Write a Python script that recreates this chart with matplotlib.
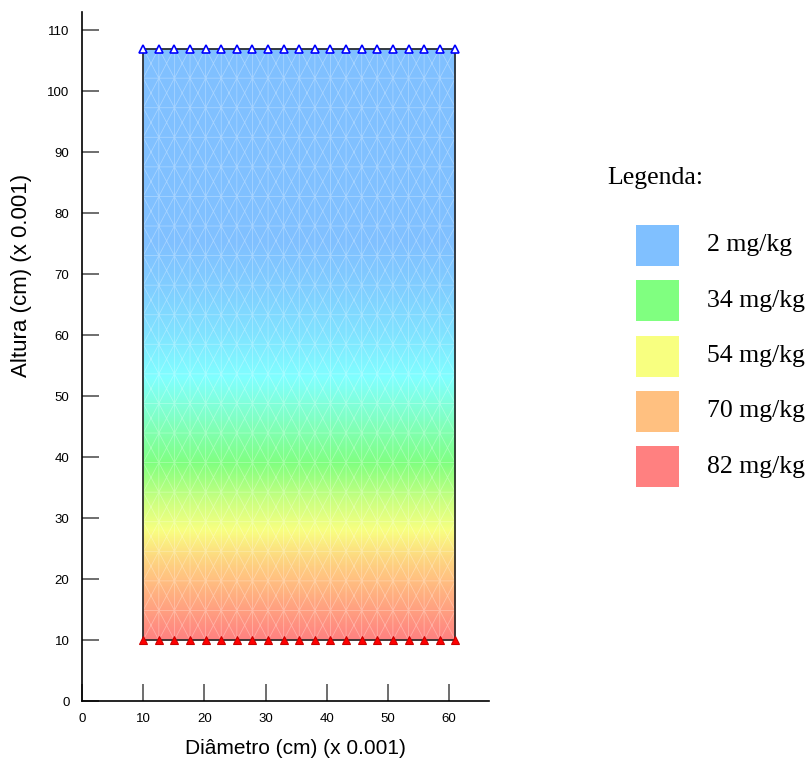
import numpy as np
import matplotlib
matplotlib.use('Agg')
import matplotlib.pyplot as plt
import matplotlib.tri as mtri
from matplotlib.colors import LinearSegmentedColormap
from matplotlib.patches import Rectangle

# sample geometry (units x 0.001 cm)
x_left, x_right = 10, 61
y_bottom, y_top = 10, 107
n_cols, n_rows = 21, 21

# concentration profile read along the height
heights = [10, 14, 20, 24, 28, 33, 39, 46, 53, 60, 67, 75, 107]
conc = [82, 77, 70, 63, 54, 46, 34, 26, 18, 11, 6, 2, 2]

# colour scale stops (mg/kg -> colour)
stop_vals = [2, 18, 34, 54, 70, 82]
stop_cols = ['#80C0FF', '#80FFFF', '#80FF80', '#F8FF80', '#FFC080', '#FF8080']

legend_labels = ['2 mg/kg', '34 mg/kg', '54 mg/kg', '70 mg/kg', '82 mg/kg']
legend_colors = ['#80C0FF', '#80FF80', '#F8FF80', '#FFC080', '#FF8080']

xticks = [0, 10, 20, 30, 40, 50, 60]
yticks = [0, 10, 20, 30, 40, 50, 60, 70, 80, 90, 100, 110]

plt.rcParams['font.family'] = ['Liberation Sans', 'DejaVu Sans']

fig = plt.figure(figsize=(8.10, 7.63), dpi=100)
ax = fig.add_axes([82/810, 62/763, 407/810, 689/763])
ax.set_xlim(0, 66.5)
ax.set_ylim(0, 113)

lo, hi = min(stop_vals), max(stop_vals)
cmap = LinearSegmentedColormap.from_list(
    'conc', [((v - lo) / (hi - lo), c) for v, c in zip(stop_vals, stop_cols)])

# colour field
X, Y = np.meshgrid([x_left, x_right], heights)
C = np.array([conc, conc]).T
ax.pcolormesh(X, Y, C, cmap=cmap, vmin=lo, vmax=hi, shading='gouraud', zorder=1)

# finite element mesh (quads split into 4 triangles)
xs = np.linspace(x_left, x_right, n_cols)
ys = np.linspace(y_bottom, y_top, n_rows)
gx, gy = np.meshgrid(xs, ys)
px = list(gx.ravel())
py = list(gy.ravel())
tris = []
for j in range(n_rows - 1):
    for i in range(n_cols - 1):
        a = j * n_cols + i
        b = a + 1
        c = a + n_cols + 1
        d = a + n_cols
        px.append((xs[i] + xs[i + 1]) / 2)
        py.append((ys[j] + ys[j + 1]) / 2)
        m = len(px) - 1
        tris += [[a, b, m], [b, c, m], [c, d, m], [d, a, m]]
tri = mtri.Triangulation(px, py, tris)
ax.triplot(tri, color='white', lw=0.6, alpha=0.3, zorder=2)

ax.add_patch(Rectangle((x_left, y_bottom), x_right - x_left, y_top - y_bottom,
                       fill=False, ec='#222222', lw=1.2, zorder=3))

# boundary nodes
ax.plot(xs, [y_top] * n_cols, ls='none', marker='^', ms=6, mfc='white',
        mec='#0000FF', mew=1.2, zorder=5, clip_on=False)
ax.plot(xs, [y_bottom] * n_cols, ls='none', marker='^', ms=6, mfc='#FF0000',
        mec='#CC0000', mew=0.8, zorder=5, clip_on=False)

for s in ['top', 'right']:
    ax.spines[s].set_visible(False)
for s in ['left', 'bottom']:
    ax.spines[s].set_linewidth(1.2)
ax.set_xticks(xticks)
ax.set_yticks(yticks)
ax.tick_params(axis='both', direction='in', length=12, width=1.2, color='#555555',
               labelsize=9.5)
ax.tick_params(axis='y', pad=9)
ax.tick_params(axis='x', pad=8.5)

fig.text(295/810, 1 - 748/763, 'Diâmetro (cm) (x 0.001)', ha='center', va='center',
         fontsize=15)
fig.text(22/810, 1 - 275/763, 'Altura (cm) (x 0.001)', ha='center', va='center',
         fontsize=16, rotation=90)

# legend
fig.text(607/810, 1 - 178/763, 'Legenda:', ha='left', va='center',
         fontsize=18.5, family='Liberation Serif')
for k, (lab, col) in enumerate(zip(legend_labels, legend_colors)):
    top = 225 + k * 55.3
    fig.add_artist(Rectangle((636/810, 1 - (top + 41)/763), 43/810, 41/763,
                             transform=fig.transFigure, fc=col, ec='none'))
    fig.text(707/810, 1 - (top + 20.5)/763, lab, ha='left', va='center',
             fontsize=18.5, family='Liberation Serif')

fig.savefig('out.png', dpi=100)
